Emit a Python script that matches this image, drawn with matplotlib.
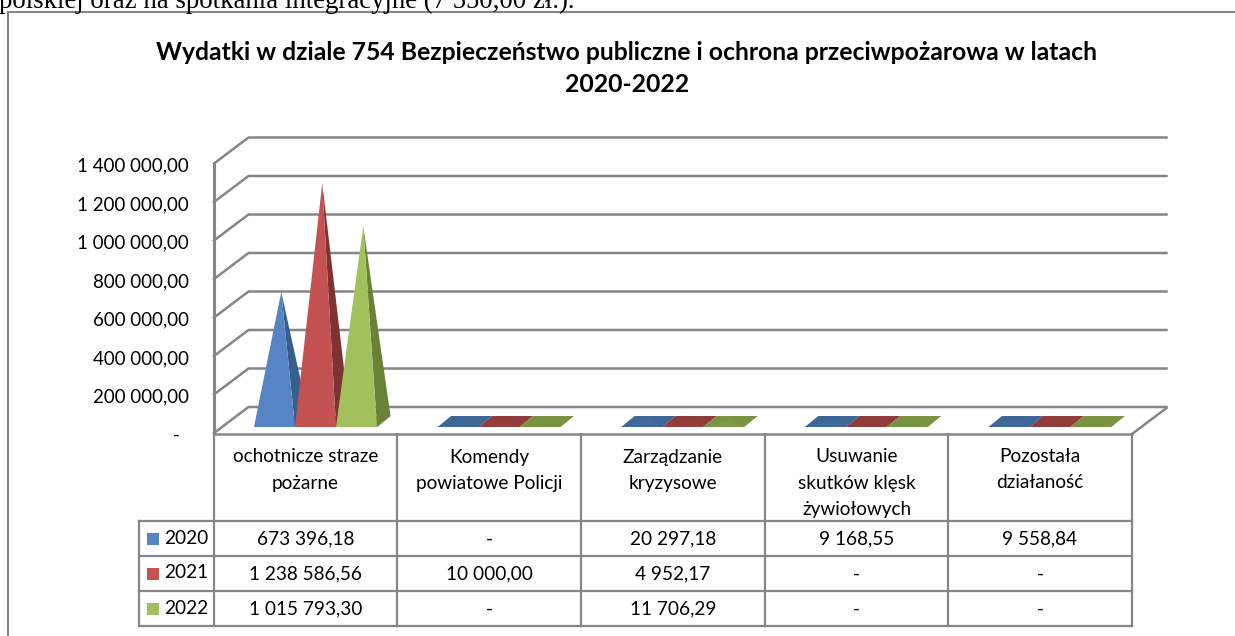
import matplotlib
matplotlib.use('Agg')
import matplotlib.pyplot as plt
from matplotlib.patches import Polygon, Rectangle
from matplotlib.transforms import ScaledTranslation

plt.rcParams['font.family'] = ['Lato', 'DejaVu Sans']

# dane z wykresu
kategorie = ['ochotnicze straze\npożarne', 'Komendy\npowiatowe Policji', 'Zarządzanie\nkryzysowe',
             'Usuwanie\nskutków klęsk\nżywiołowych', 'Pozostała\ndziałaność']
lata = ['2020', '2021', '2022']
w2020 = [673396.18, None, 20297.18, 9168.55, 9558.84]
w2021 = [1238586.56, 10000.00, 4952.17, None, None]
w2022 = [1015793.30, None, 11706.29, None, None]
serie = [w2020, w2021, w2022]
ticki = [0, 200000, 400000, 600000, 800000, 1000000, 1200000, 1400000]
tytul = ['Wydatki w dziale 754 Bezpieczeństwo publiczne i ochrona przeciwpożarowa w latach', '2020-2022']
tekst_gora = 'polskiej oraz na spotkania integracyjne (7 550,00 zł.).'

jasne = ['#5585C5', '#C55252', '#A2C15C']
ciemne = ['#375F8C', '#7F3331', '#6A8238']
podstawa = ['#3E6697', '#8F3C3B', '#7A9343']
szary = '#868686'
W, H = 1235, 636
fs = 13.7


def fmt(v):
    if not v:
        return '-'
    return f'{v:,.2f}'.replace(',', ' ').replace('.', ',')


fig = plt.figure(figsize=(W / 100, H / 100), dpi=100)

# warstwa strony (ramka, tabela, teksty) w pikselach
page = fig.add_axes([0, 0, 1, 1])
page.set_xlim(0, W)
page.set_ylim(H, 0)
page.axis('off')

page.plot([8, 8, W], [H, 12, 12], color=szary, lw=1.5, solid_joinstyle='miter')
page.text(-1, 8, tekst_gora, family='Liberation Serif', fontsize=19.3, color='black', ha='left', va='baseline')
page.text(627, 52, tytul[0], fontsize=17.8, fontweight='bold', color='black', ha='center', va='center')
page.text(627, 84, tytul[1], fontsize=17.8, fontweight='bold', color='black', ha='center', va='center')

# tabela
kol = [214, 397, 581, 765, 948, 1132]
wiersze = [521, 556, 591, 626]
for x in kol:
    page.plot([x, x], [434, 626], color=szary, lw=1.6)
page.plot([139, 139], [521, 626], color=szary, lw=1.6)
for y in wiersze:
    page.plot([139, 1132], [y, y], color=szary, lw=1.6)
for i, k in enumerate(kategorie):
    xc = (kol[i] + kol[i + 1]) / 2
    for n, linia in enumerate(k.split('\n')):
        page.text(xc, 457 + n * 26, linia, fontsize=fs, ha='center', va='center', color='black')
for r, (rok, s) in enumerate(zip(lata, serie)):
    yc = (wiersze[r] + wiersze[r + 1]) / 2
    page.add_patch(Rectangle((147, yc - 6), 12, 12, color=jasne[r], lw=0))
    page.text(164, yc - 0.5, rok, fontsize=fs, ha='left', va='center', color='black')
    for i, v in enumerate(s):
        page.text((kol[i] + kol[i + 1]) / 2, yc + 0.5, fmt(v), fontsize=fs, ha='center', va='center', color='black')

# os danych: x = kategorie, y = wartosci
ax = fig.add_axes([214 / W, 1 - 433 / H, 918 / W, 269.5 / H])
ax.patch.set_alpha(0)
ax.set_xlim(0, 5)
ax.set_ylim(0, 1400000)
for s in ax.spines.values():
    s.set_visible(False)
ax.set_xticks([])
ax.set_yticks(ticki)
ax.set_yticklabels([fmt(t) if t else '-  ' for t in ticki], fontsize=13.5, va='center')
ax.tick_params(axis='y', length=0, pad=18)
przesun = ScaledTranslation(0, -2.5 / 100, fig.dpi_scale_trans)
for lab in ax.get_yticklabels():
    lab.set_transform(lab.get_transform() + przesun)

px = 5 / 918
py = 1400000 / 269.5
gx, gy = 34.5 * px, 26 * py  # glebokosc sciany

ax.plot([0, 0], [0, ticki[-1]], color=szary, lw=2.2, clip_on=False)
ax.plot([0, 5], [-py, -py], color=szary, lw=1.8, clip_on=False)
ax.plot([5, 5 + gx], [-py, gy - py], color=szary, lw=1.8, clip_on=False)
for t in ticki:
    ax.plot([0, gx, 5 + gx], [t, t + gy, t + gy], color=szary, lw=1.8, clip_on=False, solid_joinstyle='miter')

# ostroslupy
szer = 41 * px
gl_x, gl_y = 13.5 * px, 11 * py
y0 = 6 * py
for i in range(len(kategorie)):
    for j, s in enumerate(serie):
        v = s[i] or 0
        x0 = i + 40 * px + j * szer
        x1 = x0 + szer
        sx = (x0 + x1 + gl_x) / 2
        sy = y0 + gl_y / 2
        ax.add_patch(Polygon([(x0, y0), (x1, y0), (x1 + gl_x, y0 + gl_y), (x0 + gl_x, y0 + gl_y)],
                             closed=True, color=podstawa[j], lw=0, clip_on=False, zorder=3))
        if v > 100000:
            ax.add_patch(Polygon([(x1, y0), (x1 + gl_x, y0 + gl_y), (sx, sy + v)],
                                 closed=True, color=ciemne[j], lw=0, clip_on=False, zorder=3 + j))
            ax.add_patch(Polygon([(x0, y0), (x1, y0), (sx, sy + v)],
                                 closed=True, color=jasne[j], lw=0, clip_on=False, zorder=3 + j))
        elif v > 0:
            ax.add_patch(Polygon([(x0, y0), (x1, y0), (sx, sy + v)],
                                 closed=True, color=jasne[j], alpha=0.12, lw=0, clip_on=False, zorder=4))

fig.savefig('out.png', dpi=100)
